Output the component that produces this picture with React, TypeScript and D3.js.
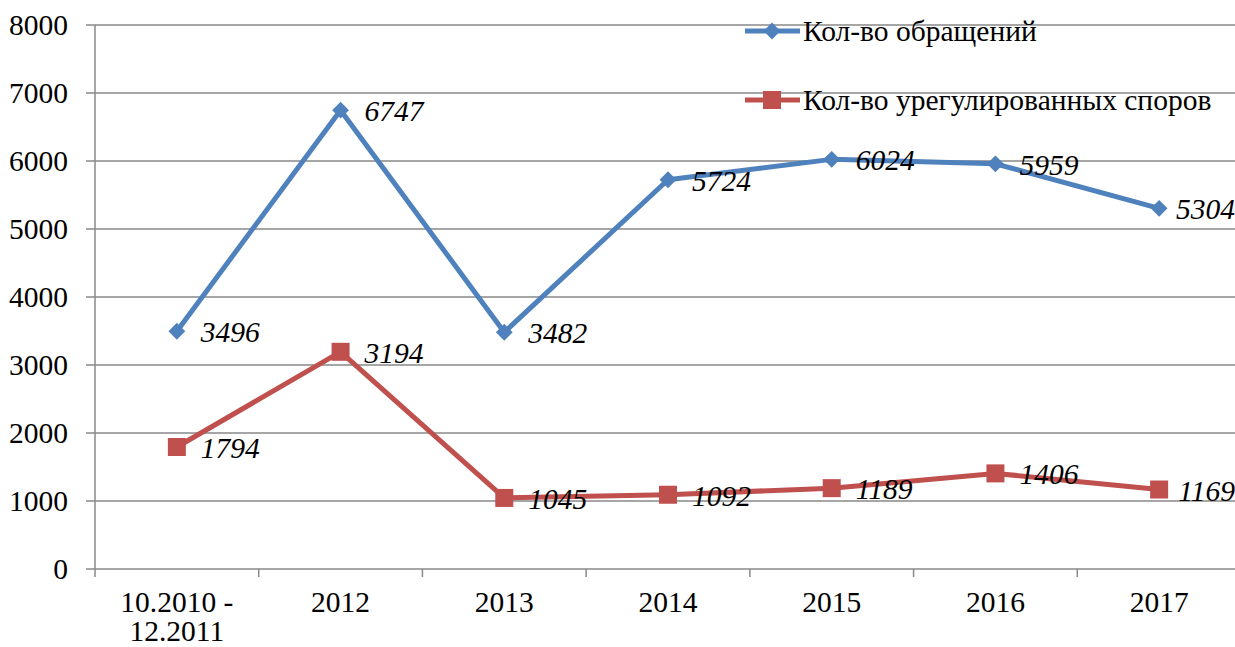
import React, { useEffect, useRef } from "react";
import * as d3 from "d3";

const categories = ["10.2010 -\n12.2011", "2012", "2013", "2014", "2015", "2016", "2017"];
const appeals = [3496, 6747, 3482, 5724, 6024, 5959, 5304];
const settled = [1794, 3194, 1045, 1092, 1189, 1406, 1169];
const yTicks = [0, 1000, 2000, 3000, 4000, 5000, 6000, 7000, 8000];
const seriesNames = ["Кол-во обращений", "Кол-во урегулированных споров"];

const width = 1235;
const height = 647;
const margin = { top: 25, right: -6, bottom: 78, left: 95 };
const font = "Liberation Serif, Times New Roman, DejaVu Serif, serif";
const gridColor = "#898989";
const colors = ["#4F81BD", "#C0504D"];

const App = () => {
  const svgRef = useRef(null);

  useEffect(() => {
    document.body.style.margin = "0";
    const svg = d3.select(svgRef.current);
    svg.selectAll("*").remove();

    const x = d3
      .scaleBand()
      .domain(categories)
      .range([margin.left, width - margin.right]);
    const y = d3
      .scaleLinear()
      .domain([0, 8000])
      .range([height - margin.bottom, margin.top]);
    const cx = (c) => x(c) + x.bandwidth() / 2;

    // grid + y labels
    const g = svg.append("g");
    g.selectAll(".grid")
      .data(yTicks)
      .enter()
      .append("line")
      .attr("x1", margin.left - 9)
      .attr("x2", width)
      .attr("y1", (d) => y(d))
      .attr("y2", (d) => y(d))
      .attr("stroke", gridColor)
      .attr("stroke-width", 1.5);
    g.selectAll(".ylab")
      .data(yTicks)
      .enter()
      .append("text")
      .attr("x", margin.left - 27)
      .attr("y", (d) => y(d) + 10)
      .attr("text-anchor", "end")
      .style("font-family", font)
      .style("font-size", "29.5px")
      .attr("fill", "#000")
      .text((d) => d);

    // axes lines
    g.append("line")
      .attr("x1", margin.left)
      .attr("x2", margin.left)
      .attr("y1", y(8000))
      .attr("y2", y(0) + 8)
      .attr("stroke", gridColor)
      .attr("stroke-width", 1.5);
    const bounds = categories.map((c) => x(c)).concat([x(categories[categories.length - 1]) + x.bandwidth()]);
    g.selectAll(".xtick")
      .data(bounds.slice(1))
      .enter()
      .append("line")
      .attr("x1", (d) => d)
      .attr("x2", (d) => d)
      .attr("y1", y(0))
      .attr("y2", y(0) + 8)
      .attr("stroke", gridColor)
      .attr("stroke-width", 1.5);

    // x labels
    categories.forEach((c) => {
      const lines = c.split("\n");
      const t = g
        .append("text")
        .attr("text-anchor", "middle")
        .style("font-family", font)
        .style("font-size", "29.5px")
        .attr("fill", "#000");
      lines.forEach((l, i) => {
        t.append("tspan")
          .attr("x", cx(c))
          .attr("y", y(0) + 43 + i * 29)
          .text(l);
      });
    });

    const series = [appeals, settled];
    const line = d3
      .line()
      .x((d, i) => cx(categories[i]))
      .y((d) => y(d));

    series.forEach((vals, si) => {
      svg.append("path")
        .datum(vals)
        .attr("d", line)
        .attr("fill", "none")
        .attr("stroke", colors[si])
        .attr("stroke-width", 5)
        .attr("stroke-linejoin", "round");

      const marks = svg.append("g");
      vals.forEach((v, i) => {
        const px = cx(categories[i]);
        const py = y(v);
        if (si === 0) {
          marks.append("path")
            .attr("d", d3.symbol().type(d3.symbolDiamond2).size(180)())
            .attr("transform", `translate(${px},${py})`)
            .attr("fill", colors[si]);
        } else {
          marks.append("rect")
            .attr("x", px - 9)
            .attr("y", py - 9)
            .attr("width", 18)
            .attr("height", 18)
            .attr("fill", colors[si]);
        }
        const last = i === vals.length - 1;
        marks.append("text")
          .attr("x", last ? width : px + 24)
          .attr("y", py + 11)
          .attr("text-anchor", last ? "end" : "start")
          .style("font-family", font)
          .style("font-style", "italic")
          .style("font-size", "29.5px")
          .attr("fill", "#000")
          .text(v);
      });
    });

    // legend
    const leg = svg.append("g");
    seriesNames.forEach((name, i) => {
      const ly = 31 + i * 69;
      leg.append("line")
        .attr("x1", 745)
        .attr("x2", 800)
        .attr("y1", ly)
        .attr("y2", ly)
        .attr("stroke", colors[i])
        .attr("stroke-width", 5);
      if (i === 0) {
        leg.append("path")
          .attr("d", d3.symbol().type(d3.symbolDiamond2).size(180)())
          .attr("transform", `translate(772,${ly})`)
          .attr("fill", colors[i]);
      } else {
        leg.append("rect")
          .attr("x", 763)
          .attr("y", ly - 9)
          .attr("width", 18)
          .attr("height", 18)
          .attr("fill", colors[i]);
      }
      leg.append("text")
        .attr("x", 803)
        .attr("y", ly + 10)
        .style("font-family", font)
        .style("font-size", "29.5px")
        .attr("fill", "#000")
        .text(name);
    });
  }, []);

  return <svg ref={svgRef} width={width} height={height} style={{ display: "block", background: "#fff" }} />;
};

export default App;
